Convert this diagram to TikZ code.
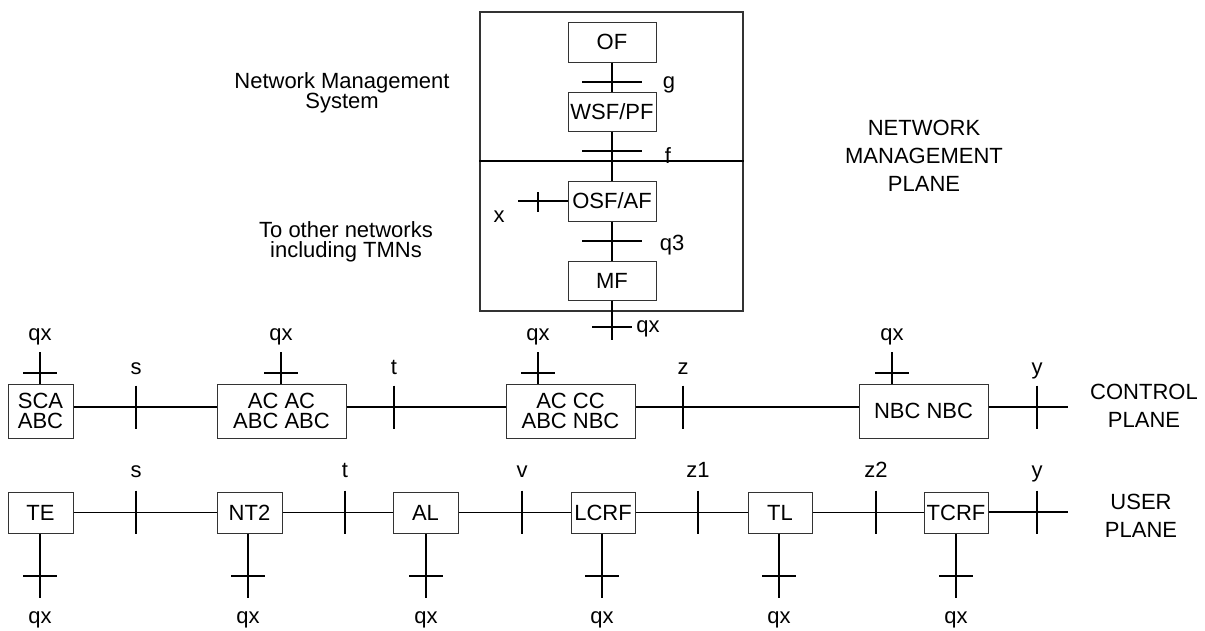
\documentclass[tikz,border=0pt]{standalone}
\usepackage{fontspec}
\setmainfont{Liberation Sans}
\usetikzlibrary{positioning}

\begin{document}
\begin{tikzpicture}
  [x=1pt,y=-1pt,
  every node/.style={inner sep=0pt,font=\fontsize{22}{20}\selectfont},
  box/.style={draw=black!80,line width=1pt,minimum height=40pt,align=center},
  wire/.style={line width=1.8pt},
  plane/.style={align=center,font=\fontsize{22}{28}\selectfont}]

\useasboundingbox (0,0) rectangle (1205,630);

% management system
\node[draw=black!80,line width=1.2pt,minimum width=263pt,minimum height=299pt] (nms) at (611.5,161.5) {};
\coordinate (split) at (611.5,161);
\draw[wire] (nms.west |- split) -- (nms.east |- split);

\node[box,minimum width=88pt] (of)  at (612,42)    {OF};
\node[box,minimum width=88pt,minimum height=39pt] (wsf) at (612,111.5) {WSF/PF};
\node[box,minimum width=88pt] (osf) at (612,201)   {OSF/AF};
\node[box,minimum width=88pt,minimum height=39pt] (mf)  at (612,280.5) {MF};
\coordinate (mq) at (612,340);
\coordinate (xq) at (518,201);
\draw[wire] (of)--(wsf); \draw[wire] (wsf)--(osf); \draw[wire] (osf)--(mf);
\draw[wire] (mf)--(mq);  \draw[wire] (osf)--(xq);

\coordinate (ig) at (612,82); \coordinate (if) at (612,151);
\coordinate (iq) at (612,241); \coordinate (im) at (612,327);
\coordinate (ix) at (538,202);
\draw[wire] (ig) +(-30,0) -- +(30,0); \draw[wire] (if) +(-30,0) -- +(30,0);
\draw[wire] (iq) +(-30,0) -- +(30,0); \draw[wire] (im) +(-20,0) -- +(20,0);
\draw[wire] (ix) +(0,-10) -- +(0,10);

\node[anchor=base] (lg)  at (669,88)  {g};
\node[anchor=base] (lf)  at (668,163) {f};
\node[anchor=base] (lx)  at (499,222) {x};
\node[anchor=base] (lq3) at (672,250) {q3};
\node[anchor=base] (lqm) at (648,332) {qx};

\node[align=center] (nmsys) at (342,93)  {Network Management\\System};
\node[align=center] (other) at (346,242) {To other networks\\including TMNs};
\node[plane] (nmp) at (924,156) {NETWORK\\MANAGEMENT\\PLANE};

% control plane
\node[box,minimum width=65pt,minimum height=54pt]  (sca)  at (40.5,411)  {SCA\\ABC};
\node[box,minimum width=129pt,minimum height=54pt] (acac) at (281.5,411) {AC AC\\ABC ABC};
\node[box,minimum width=129pt,minimum height=54pt] (accc) at (570.5,411) {AC CC\\ABC NBC};
\node[box,minimum width=129pt,minimum height=54pt] (nbc)  at (923.5,411) {NBC NBC};

\coordinate (cs) at (136,407); \coordinate (ct) at (394,407);
\coordinate (cz) at (683,407); \coordinate (cy) at (1037,407);
\coordinate (cend) at (1068,407);
\draw[wire] (sca.east |- cs) -- (acac.west |- cs);
\draw[wire] (acac.east |- ct) -- (accc.west |- ct);
\draw[wire] (accc.east |- cz) -- (nbc.west |- cz);
\draw[wire] (nbc.east |- cy) -- (cend);
\draw[wire] (cs) +(0,-21.5) -- +(0,21.5); \draw[wire] (ct) +(0,-21.5) -- +(0,21.5);
\draw[wire] (cz) +(0,-21.5) -- +(0,21.5); \draw[wire] (cy) +(0,-21.5) -- +(0,21.5);

\coordinate (cqa) at (40,352);  \coordinate (cqb) at (281,352);
\coordinate (cqc) at (538,352); \coordinate (cqd) at (892,352);
\draw[wire] (sca.north -| cqa) -- (cqa);  \draw[wire] (acac.north -| cqb) -- (cqb);
\draw[wire] (accc.north -| cqc) -- (cqc); \draw[wire] (nbc.north -| cqd) -- (cqd);
\draw[wire] (cqa) ++(0,21) +(-17,0) -- +(17,0); \draw[wire] (cqb) ++(0,21) +(-17,0) -- +(17,0);
\draw[wire] (cqc) ++(0,21) +(-17,0) -- +(17,0); \draw[wire] (cqd) ++(0,21) +(-17,0) -- +(17,0);

\node[anchor=base] (lcqa) at (40,340)  {qx}; \node[anchor=base] (lcqb) at (281,340) {qx};
\node[anchor=base] (lcqc) at (538,340) {qx}; \node[anchor=base] (lcqd) at (892,340) {qx};
\node[anchor=base] (lcs) at (136,374)  {s}; \node[anchor=base] (lct) at (394,374) {t};
\node[anchor=base] (lcz) at (683,374)  {z}; \node[anchor=base] (lcy) at (1037,374) {y};

\node[plane] (cp) at (1144,406) {CONTROL\\PLANE};

% user plane
\node[box,minimum width=65pt,minimum height=41pt] (te)   at (40.5,512.5)  {TE};
\node[box,minimum width=65pt,minimum height=41pt] (nt2)  at (249.5,512.5) {NT2};
\node[box,minimum width=65pt,minimum height=41pt] (al)   at (425.5,512.5) {AL};
\node[box,minimum width=64pt,minimum height=41pt] (lcrf) at (603,512.5)   {LCRF};
\node[box,minimum width=64pt,minimum height=41pt] (tl)   at (780,512.5)   {TL};
\node[box,minimum width=64pt,minimum height=41pt] (tcrf) at (956,512.5)   {TCRF};

\coordinate (us) at (136,512);  \coordinate (ut) at (345,512);
\coordinate (uv) at (522,512);  \coordinate (uz1) at (698,512);
\coordinate (uz2) at (876,512); \coordinate (uy) at (1037,512);
\coordinate (uend) at (1068,512);
\draw[wire] (te)--(nt2); \draw[wire] (nt2)--(al); \draw[wire] (al)--(lcrf);
\draw[wire] (lcrf)--(tl); \draw[wire] (tl)--(tcrf); \draw[wire] (tcrf.east |- uy)--(uend);
\draw[wire] (us) +(0,-21.5) -- +(0,21.5);  \draw[wire] (ut) +(0,-21.5) -- +(0,21.5);
\draw[wire] (uv) +(0,-21.5) -- +(0,21.5);  \draw[wire] (uz1) +(0,-21.5) -- +(0,21.5);
\draw[wire] (uz2) +(0,-21.5) -- +(0,21.5); \draw[wire] (uy) +(0,-21.5) -- +(0,21.5);

\coordinate (uqa) at (40,598);  \coordinate (uqb) at (248,598); \coordinate (uqc) at (426,598);
\coordinate (uqd) at (602,598); \coordinate (uqe) at (779,598); \coordinate (uqf) at (956,598);
\draw[wire] (te.south -| uqa) -- (uqa);   \draw[wire] (nt2.south -| uqb) -- (uqb);
\draw[wire] (al.south -| uqc) -- (uqc);   \draw[wire] (lcrf.south -| uqd) -- (uqd);
\draw[wire,line width=2.6pt] (tl.south -| uqe) -- (uqe); \draw[wire] (tcrf.south -| uqf) -- (uqf);
\draw[wire] (uqa) ++(0,-22) +(-17,0) -- +(17,0); \draw[wire] (uqb) ++(0,-22) +(-17,0) -- +(17,0);
\draw[wire] (uqc) ++(0,-22) +(-17,0) -- +(17,0); \draw[wire] (uqd) ++(0,-22) +(-17,0) -- +(17,0);
\draw[wire] (uqe) ++(0,-22) +(-17,0) -- +(17,0); \draw[wire] (uqf) ++(0,-22) +(-17,0) -- +(17,0);

\node[anchor=base] (luqa) at (40,623)  {qx}; \node[anchor=base] (luqb) at (248,623) {qx};
\node[anchor=base] (luqc) at (426,623) {qx}; \node[anchor=base] (luqd) at (602,623) {qx};
\node[anchor=base] (luqe) at (779,623) {qx}; \node[anchor=base] (luqf) at (956,623) {qx};
\node[anchor=base] (lus) at (136,477)   {s};  \node[anchor=base] (lut) at (345,477)  {t};
\node[anchor=base] (luv) at (522,477)   {v};  \node[anchor=base] (luz1) at (698,477) {z1};
\node[anchor=base] (luz2) at (876,477)  {z2}; \node[anchor=base] (luy) at (1037,477) {y};

\node[plane] (up) at (1141,516) {USER\\PLANE};
\end{tikzpicture}
\end{document}
